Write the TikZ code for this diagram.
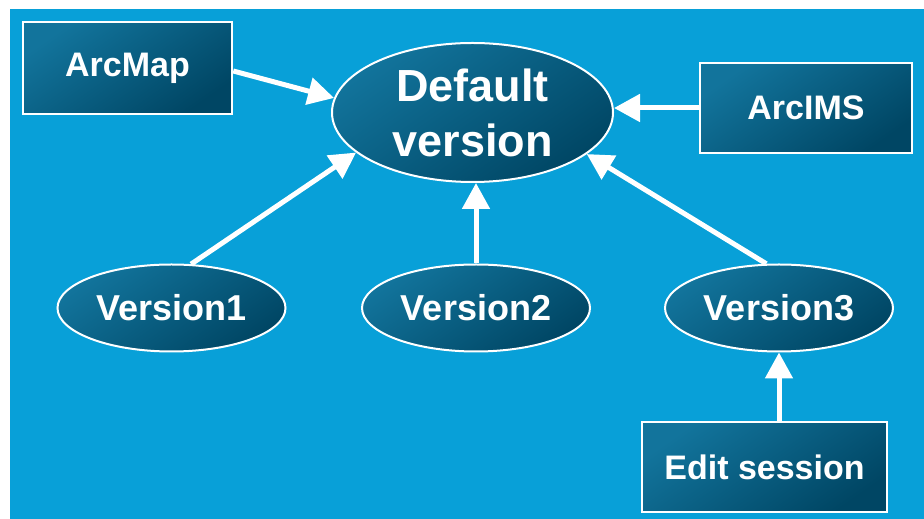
\documentclass[tikz,border=0pt]{standalone}
\usepackage{fontspec}
\setmainfont{Liberation Sans}
\usetikzlibrary{shapes.geometric,arrows.meta}
\definecolor{sky}{RGB}{8,160,216}
\definecolor{tealA}{RGB}{18,116,156}
\definecolor{tealB}{RGB}{0,70,100}
\begin{document}
\begin{tikzpicture}[x=1pt,y=1pt]
	\tikzset{bx/.style={draw=white,line width=2.5pt,top color=tealA,bottom color=tealB,shading angle=35,text=white,font=\fontsize{34}{40}\selectfont\bfseries,inner sep=0pt},
		ov/.style={ellipse,draw=white,line width=2pt,top color=tealA,bottom color=tealB,shading angle=35,text=white,inner sep=0pt,font=\fontsize{36}{42}\selectfont\bfseries},
		ar/.style={draw=white,line width=5pt,-{Triangle[length=26pt,width=27pt]}}}
	\fill[white](0,0)rectangle(924,519);
	\fill[sky](10,0)rectangle(924,510);
	% boxes and ovals
	\node[bx,minimum width=209,minimum height=92](arcmap)at(127.5,451){ArcMap};
	\node[bx,minimum width=212,minimum height=90](arcims)at(806,411){ArcIMS};
	\node[bx,minimum width=245,minimum height=90](edit)at(764.5,52){Edit session};
	\node[ov,minimum width=281,minimum height=139,align=center,font=\fontsize{45}{55}\selectfont\bfseries](def)at(472.5,406.5){Default\\version};
	\foreach \n/\x in{1/171.5,2/476,3/779}
	\node[ov,minimum width=228,minimum height=87](v\n)at(\x,211){Version\n};
	% arrows
	\draw[ar]([yshift=-3pt]arcmap.east)--(def.174);
	\draw[ar](arcims.west)--(def.east|-arcims.west);
	\draw[ar](v1.66)--(def.199);
	\draw[ar](v2.north)--(v2.north|-def.south);
	\draw[ar](v3.106)--(def.340);
	\draw[ar](v3.south|-edit.north)--(v3.south);
\end{tikzpicture}
\end{document}
